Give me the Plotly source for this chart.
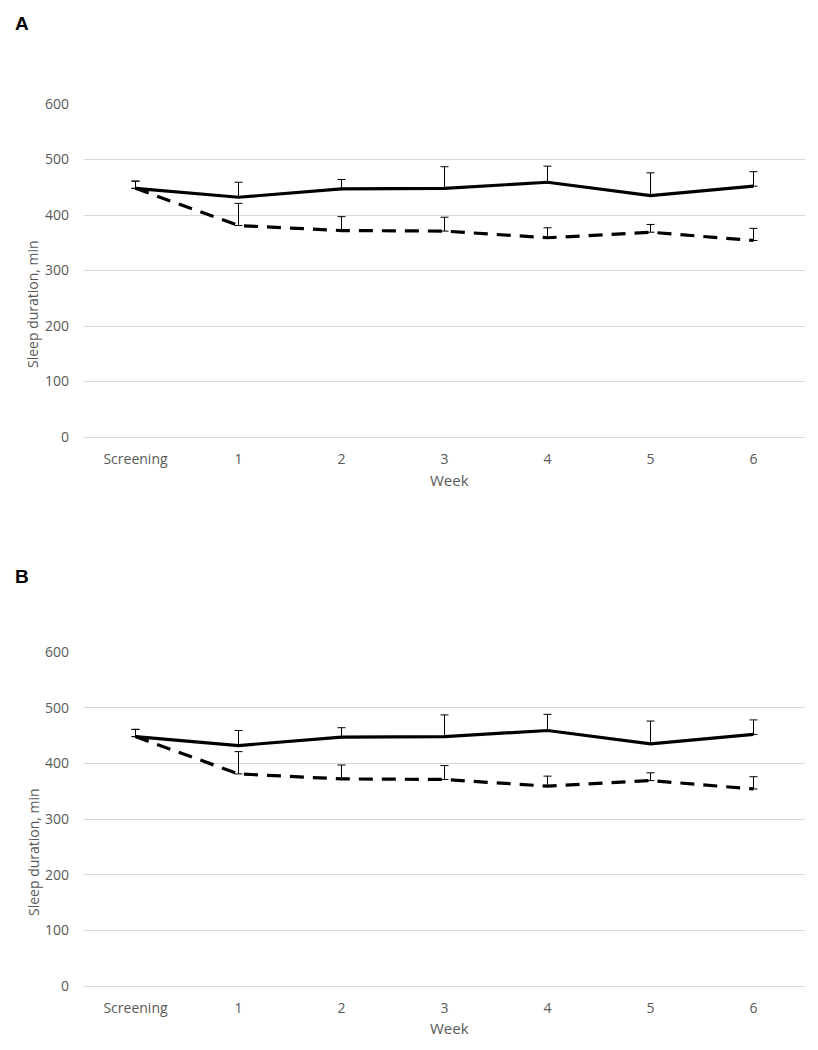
import plotly.graph_objects as go

categories = ["Screening", "1", "2", "3", "4", "5", "6"]

# Panel A
a_solid = [448, 432, 447, 448, 459, 435, 452]
a_solid_err = [13, 27, 17, 39, 29, 41, 26]
a_dashed = [448, 381, 372, 371, 359, 369, 354]
a_dashed_err = [13, 40, 25, 25, 18, 14, 22]

# Panel B
b_solid = [448, 432, 447, 448, 459, 435, 452]
b_solid_err = [13, 27, 17, 39, 29, 41, 26]
b_dashed = [448, 381, 372, 371, 359, 369, 354]
b_dashed_err = [13, 40, 25, 25, 18, 14, 22]

y_ticks = [0, 100, 200, 300, 400, 500, 600]

FONT = "Open Sans"
GREY = "#595959"
GRID = "#d9d9d9"

# page body has an 8px margin; figure sized to fit the 818x1050 window
OFF = 8
W = 818 - 2 * OFF
H = 1050 - 2 * OFF

def fx(xp):
    return (xp - OFF) / W

def fy(yp):
    return 1 - (yp - OFF) / H

fig = go.Figure()

panels = [
    ("x", "y", a_solid, a_solid_err, a_dashed, a_dashed_err),
    ("x2", "y2", b_solid, b_solid_err, b_dashed, b_dashed_err),
]

for xa, ya, solid, solid_err, dashed, dashed_err in panels:
    fig.add_trace(go.Scatter(
        x=categories, y=dashed, xaxis=xa, yaxis=ya, mode="lines",
        line=dict(color="black", width=3.2, dash="14px,9px"),
        error_y=dict(type="data", symmetric=False, array=dashed_err,
                     arrayminus=[0] * len(dashed_err), color="black",
                     thickness=1, width=4),
        showlegend=False, hoverinfo="skip"))
    fig.add_trace(go.Scatter(
        x=categories, y=solid, xaxis=xa, yaxis=ya, mode="lines",
        line=dict(color="black", width=3.2),
        error_y=dict(type="data", symmetric=False, array=solid_err,
                     arrayminus=[0] * len(solid_err), color="black",
                     thickness=1, width=4),
        showlegend=False, hoverinfo="skip"))

domA = [fy(437), fy(104)]
domB = [fy(986), fy(652)]
xdom = [fx(84), fx(805)]

def xaxis(anchor):
    return dict(domain=xdom, anchor=anchor, type="category",
                categoryorder="array", categoryarray=categories,
                range=[-0.5, 6.5], showgrid=False, zeroline=False,
                showline=False, ticks="", ticklabelstandoff=12,
                automargin=False,
                tickfont=dict(family=FONT, size=14, color=GREY))

def yaxis(dom, anchor):
    return dict(domain=dom, anchor=anchor, range=[0, 600], tickvals=y_ticks,
                showgrid=True, gridcolor=GRID, gridwidth=1, zeroline=True,
                zerolinecolor=GRID, zerolinewidth=1, showline=False, ticks="",
                ticklabelstandoff=14, automargin=False,
                tickfont=dict(family=FONT, size=14, color=GREY))

annotations = []
for letter, dy in (("A", 0), ("B", 553)):
    annotations.append(dict(text="<b>%s</b>" % letter, x=fx(13), y=fy(23 + dy),
                            xref="paper", yref="paper",
                            xanchor="left", yanchor="middle", showarrow=False,
                            font=dict(family="Liberation Sans", size=19, color="black")))
for dy in (0, 548):
    annotations.append(dict(text="Week", x=fx(449), y=fy(480 + dy),
                            xref="paper", yref="paper",
                            xanchor="center", yanchor="middle", showarrow=False,
                            font=dict(family=FONT, size=15, color=GREY)))
    annotations.append(dict(text="Sleep duration, min", x=fx(33), y=fy(304 + dy),
                            xref="paper", yref="paper",
                            xanchor="center", yanchor="middle", showarrow=False,
                            textangle=-90,
                            font=dict(family=FONT, size=14, color=GREY)))

fig.update_layout(
    width=W, height=H,
    margin=dict(l=0, r=0, t=0, b=0, autoexpand=False),
    paper_bgcolor="white", plot_bgcolor="white",
    xaxis=xaxis("y"), yaxis=yaxis(domA, "x"),
    xaxis2=xaxis("y2"), yaxis2=yaxis(domB, "x2"),
    annotations=annotations,
)

fig.write_html("out.html")
